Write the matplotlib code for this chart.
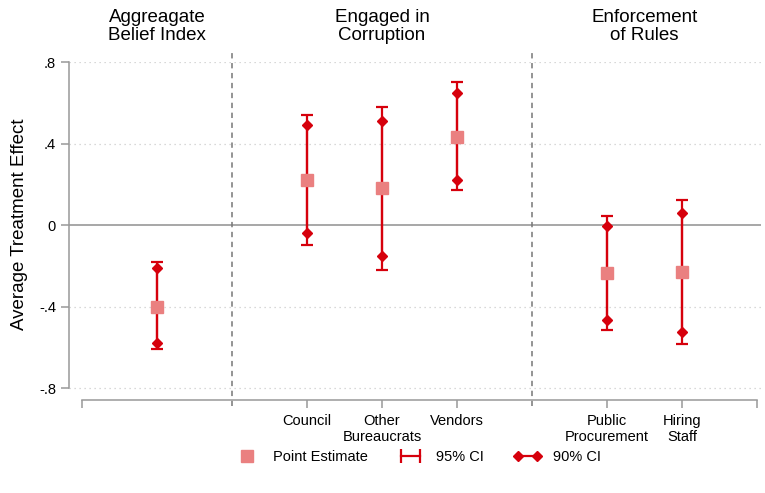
import numpy as np
import matplotlib
matplotlib.use("Agg")
import matplotlib.pyplot as plt
from matplotlib.lines import Line2D
from matplotlib.legend_handler import HandlerLine2D

plt.rcParams['font.family'] = ['Liberation Sans', 'DejaVu Sans']

# --- data ---
positions = [1, 3, 4, 5, 7, 8]
estimates = [-0.40, 0.22, 0.18, 0.43, -0.235, -0.23]
ci95_lo = [-0.61, -0.10, -0.22, 0.17, -0.515, -0.585]
ci95_hi = [-0.18, 0.54, 0.58, 0.70, 0.044, 0.123]
ci90_lo = [-0.58, -0.04, -0.15, 0.22, -0.465, -0.525]
ci90_hi = [-0.21, 0.49, 0.51, 0.65, -0.005, 0.059]

tick_pos = [0, 3, 4, 5, 7, 8, 9]
tick_labels = ['', 'Council', 'Other\nBureaucrats', 'Vendors',
               'Public\nProcurement', 'Hiring\nStaff', '']
group_pos = [1, 4, 7.5]
group_titles = ['Aggreagate\nBelief Index', 'Engaged in\nCorruption', 'Enforcement\nof Rules']
separators = [2, 6]
yticks = [-0.8, -0.4, 0, 0.4, 0.8]
ytick_labels = ['-.8', '-.4', '0', '.4', '.8']

RED = '#D6000C'
PINK = '#EA8080'
GRAY = '#999999'


class MarkerRight(HandlerLine2D):
    # put the single square near the text, like the original legend
    def get_xdata(self, legend, xdescent, ydescent, width, height, fontsize):
        xdata, _ = super().get_xdata(legend, xdescent, ydescent, width, height, fontsize)
        return xdata, [-xdescent + width - 0.55 * fontsize]


fig = plt.figure(figsize=(7.65, 4.93), dpi=100)
ax = fig.add_axes([0.0905, 0.188, 0.904, 0.686])
ax.set_xlim(-0.17, 9.05)
ax.set_ylim(-0.86, 0.8)

# grid + zero line
for yv in yticks:
    if yv == 0:
        ax.axhline(0, color='#a0a0a0', lw=1.3, zorder=1)
    else:
        ax.axhline(yv, color='#cccccc', lw=0.9, linestyle=(0, (1, 3)), zorder=0)

# group separators (run past the axes)
for xs in separators:
    ax.plot([xs, xs], [-0.89, 0.86], color='#777777', lw=1.1,
            linestyle=(0, (3.5, 3)), clip_on=False, zorder=1)

# 95% CI with caps
ax.errorbar(positions, estimates,
            yerr=[np.subtract(estimates, ci95_lo), np.subtract(ci95_hi, estimates)],
            fmt='none', ecolor=RED, elinewidth=1.6, capsize=4.5, capthick=1.6, zorder=2)
# 90% CI diamonds
for x, lo, hi in zip(positions, ci90_lo, ci90_hi):
    ax.plot([x, x], [lo, hi], color=RED, lw=1.6, marker='D', markersize=5, zorder=3)
# point estimates
ax.plot(positions, estimates, 's', color=PINK, markersize=9, zorder=4)

# axes styling
for side in ['top', 'right']:
    ax.spines[side].set_visible(False)
ax.spines['left'].set_bounds(-0.8, 0.8)
ax.spines['bottom'].set_bounds(0, 9)
for side in ['left', 'bottom']:
    ax.spines[side].set_color(GRAY)
    ax.spines[side].set_linewidth(1.1)

ax.set_yticks(yticks)
ax.set_yticklabels(ytick_labels, fontsize=10.5)
ax.set_xticks(tick_pos)
ax.set_xticklabels(tick_labels, fontsize=10.5)
ax.tick_params(axis='both', color=GRAY, width=1.1, length=6)
ax.tick_params(axis='x', pad=4)
ax.set_ylabel('Average Treatment Effect', fontsize=13.5, labelpad=8)
ax.yaxis.label.set_y(0.52)

for gx, gt in zip(group_pos, group_titles):
    ax.text(gx, 0.975, gt, ha='center', va='center', fontsize=13.5,
            linespacing=1.05, clip_on=False)

# legend
h_est = Line2D([], [], linestyle='none', marker='s', color=PINK, markersize=9)
h_95 = Line2D([], [], color=RED, lw=1.6, marker='|', markersize=10, markeredgewidth=1.6)
h_90 = Line2D([], [], color=RED, lw=1.6, marker='D', markersize=5)
fig.legend([h_est, h_95, h_90], ['Point Estimate', '95% CI', '90% CI'],
           handler_map={h_est: MarkerRight(numpoints=1)}, numpoints=2,
           loc='center', bbox_to_anchor=(417 / 765, 1 - 457 / 493), ncol=3,
           frameon=False, fontsize=10.5, handlelength=1.9, columnspacing=2.0,
           handletextpad=0.8)

fig.savefig('out.png', dpi=100)
